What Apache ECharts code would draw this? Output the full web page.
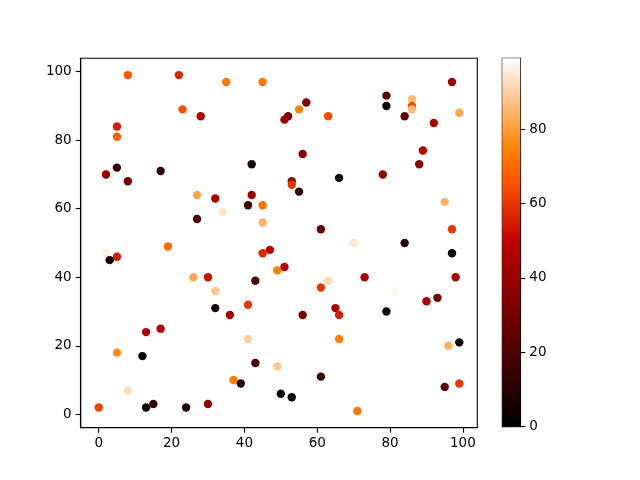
<!DOCTYPE html>
<html>
<head>
<meta charset="utf-8">
<script src="https://cdn.jsdelivr.net/npm/echarts@6/dist/echarts.min.js"></script>
<style>html,body{margin:0;padding:0;background:#fff}#c{width:640px;height:480px}</style>
</head>
<body>
<div id="c"></div>
<script>
var xs = [8,22,35,45,23,28,5,5,5,2,8,17,42,27,32,42,41,45,34,27,45,19,97,79,79,86,86,86,99,57,55,52,51,63,84,92,56,89,88,66,78,53,53,55,95,61,97,70,84,2,5,3,45,47,49,51,26,30,32,43,32,36,41,13,17,41,5,12,43,49,8,37,39,50,0,13,15,24,30,97,98,73,63,61,81,90,93,56,65,66,79,66,96,99,61,95,99,53,71];
var ys = [99,99,97,97,89,87,84,81,72,70,68,71,73,64,63,64,61,61,59,57,56,49,97,93,90,92,90,89,88,91,89,87,86,87,87,85,76,77,73,69,70,68,67,65,62,54,54,50,50,47,46,45,47,48,42,43,40,40,36,39,31,29,32,24,25,22,18,17,15,14,7,10,9,6,2,2,3,2,3,47,40,40,39,37,36,33,34,29,31,29,30,22,20,21,11,8,9,5,1];
var cs = [66,57,73,73,65,47,55,68,12,40,30,12,3,82,45,40,18,72,94,18,84,71,42,25,3,86,63,86,82,33,74,30,40,64,25,45,35,48,35,3,38,38,60,14,84,27,60,94,8,96,55,3,57,48,74,48,82,53,88,22,5,43,60,45,45,90,76,2,20,88,92,74,10,3,62,3,15,8,35,3,45,45,92,60,97,47,28,30,45,55,3,74,84,3,15,25,60,2,73];
var xTicks = [0,20,40,60,80,100];
var yTicks = [0,20,40,60,80,100];
var cTicks = [0,20,40,60,80];

function heat(t){
  var r=Math.min(1,1.5*t), g=Math.max(0,Math.min(1,2*t-1)), b=Math.max(0,Math.min(1,4*t-3));
  return 'rgb('+Math.round(r*255)+','+Math.round(g*255)+','+Math.round(b*255)+')';
}
var colors=[], stops=[];
for(var i=0;i<=12;i++){ colors.push(heat(i/12)); stops.push({offset:i/12,color:heat(i/12)}); }

var data = xs.map(function(x,i){return [x, ys[i], cs[i]];});
var font = {fontFamily:'DejaVu Sans', fontSize:13.5, color:'#000'};
var tickStyle = {show:true, inside:false, length:5, lineStyle:{color:'#000', width:1.1}};
var lineStyle = {show:true, onZero:false, lineStyle:{color:'#000', width:1.1}};

var chart = echarts.init(document.getElementById('c'), null, {renderer:'canvas'});
chart.setOption({
  animation:false,
  backgroundColor:'#fff',
  grid:[
    {left:80.7, top:58.3, width:396.6, height:369.4, show:true, borderColor:'#000', borderWidth:1.1, backgroundColor:'transparent'},
    {left:502.3, top:58.3, width:18, height:368.4, show:true, borderColor:'#000', borderWidth:1.1, backgroundColor:'transparent'}
  ],
  xAxis:[
    {gridIndex:0, type:'value', min:-4.95, max:103.95, splitLine:{show:false}, axisLine:lineStyle,
     axisTick:Object.assign({customValues:xTicks}, tickStyle),
     axisLabel:Object.assign({customValues:xTicks, margin:9}, font)},
    {gridIndex:1, type:'category', data:['c'], show:false}
  ],
  yAxis:[
    {gridIndex:0, type:'value', min:-3.9, max:103.9, splitLine:{show:false}, axisLine:lineStyle,
     axisTick:Object.assign({customValues:yTicks}, tickStyle),
     axisLabel:Object.assign({customValues:yTicks, margin:9}, font)},
    {gridIndex:1, type:'value', min:0, max:99, position:'right', splitLine:{show:false}, axisLine:lineStyle,
     axisTick:Object.assign({customValues:cTicks}, tickStyle),
     axisLabel:Object.assign({customValues:cTicks, margin:9}, font)}
  ],
  visualMap:{show:false, type:'continuous', seriesIndex:0, dimension:2, min:0, max:99, inRange:{color:colors}},
  series:[
    {type:'scatter', xAxisIndex:0, yAxisIndex:0, data:data, symbolSize:8.4, itemStyle:{opacity:1}},
    {type:'bar', xAxisIndex:1, yAxisIndex:1, data:[99], barWidth:'100%', silent:true,
     itemStyle:{color:{type:'linear', x:0, y:1, x2:0, y2:0, colorStops:stops}}}
  ]
});
</script>
</body>
</html>
